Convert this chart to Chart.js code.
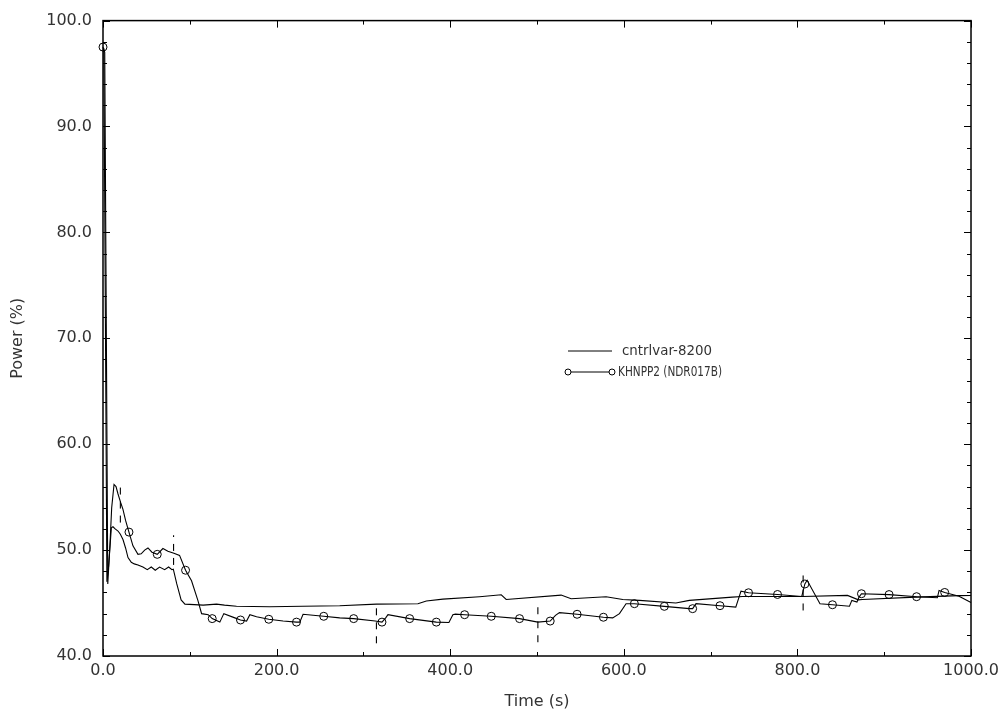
<!DOCTYPE html>
<html>
<head>
<meta charset="utf-8">
<title>Power</title>
<script src="https://cdn.jsdelivr.net/npm/chart.js@4.4.0/dist/chart.umd.min.js"></script>
<style>
  html, body { margin: 0; padding: 0; background: #fff; }
  #wrap { width: 1004px; height: 718px; }
</style>
</head>
<body>
<div id="wrap"><canvas id="powerChart" width="1004" height="718"></canvas></div>
<script>
// cntrlvar-8200 : calculated power
const calcTime = [0, 1, 4.5, 6.5, 9.6, 11.5, 14, 17.3, 20, 23, 26, 28.8, 32.6, 36, 40.3, 46, 51, 55.6, 60.2,
  65.2, 71, 75.6, 79.4, 81, 85, 90, 94.4, 105, 115.4, 130.8, 140, 153.8, 192, 230, 272.7, 315, 362.8,
  372.5, 391.6, 433.8, 458.8, 464.5, 527.8, 539.3, 579.6, 598.8, 618, 660, 675.5, 725, 736.8, 805.9,
  857.7, 870.3, 874.9, 936.2, 986, 1000];
const calcPower = [97.4, 97.0, 47.0, 48.5, 52.1, 52.2, 52.0, 51.8, 51.5, 51.0, 50.2, 49.3, 48.85, 48.7, 48.6,
  48.4, 48.15, 48.4, 48.1, 48.4, 48.15, 48.4, 48.15, 48.2, 46.8, 45.3, 44.9, 44.85, 44.8, 44.9, 44.8,
  44.7, 44.65, 44.7, 44.75, 44.9, 44.94, 45.2, 45.37, 45.6, 45.78, 45.34, 45.75, 45.4, 45.6, 45.34,
  45.25, 45.0, 45.25, 45.56, 45.62, 45.62, 45.72, 45.3, 45.34, 45.56, 45.7, 45.72];

// KHNPP2 (NDR017B) : plant record
const plantTime = [0, 2, 5.5, 8, 10, 12.7, 15, 17.3, 20.3, 23, 26, 29.9, 34.5, 40.3, 44, 48, 51.8, 56.4, 62.5,
  69, 74.8, 81.7, 88.2, 95.1, 102, 109.3, 113.6, 121.2, 125.8, 134.6, 139.2, 151.9, 158.4, 165.4, 169.2,
  176.9, 191, 207.5, 222.9, 226.7, 230.5, 242, 254.3, 272.7, 288.8, 313.6, 321.4, 325.7, 328.3, 353.3,
  384, 398.5, 403.1, 406, 416.6, 447.3, 479.9, 500.9, 515.2, 521.3, 525.9, 546.2, 576.5, 587.2, 595,
  602.6, 612.2, 646.7, 675.5, 679.3, 683.2, 710.8, 729, 735, 743.7, 777.1, 805, 808.6, 811.2, 826,
  840.4, 860, 862.7, 868.6, 871, 873.8, 905.6, 937.3, 961.2, 963.2, 969.7, 986.2, 1000];
const plantPower = [97.5, 97.0, 46.8, 50.5, 54.0, 56.2, 56.0, 55.3, 54.5, 53.85, 52.8, 51.7, 50.4, 49.6, 49.65,
  50.0, 50.2, 49.8, 49.6, 50.15, 49.9, 49.7, 49.5, 48.1, 47.1, 45.25, 44.0, 43.9, 43.53, 43.2, 44.0,
  43.6, 43.4, 43.3, 43.9, 43.7, 43.47, 43.3, 43.2, 43.2, 43.94, 43.85, 43.75, 43.6, 43.53, 43.3, 43.2,
  43.6, 43.9, 43.53, 43.2, 43.16, 43.9, 43.95, 43.9, 43.75, 43.53, 43.2, 43.3, 43.84, 44.1, 43.94,
  43.66, 43.6, 44.0, 44.94, 44.94, 44.69, 44.47, 44.47, 44.94, 44.75, 44.62, 46.12, 45.97, 45.81,
  45.62, 46.8, 47.15, 44.94, 44.84, 44.7, 45.25, 45.1, 45.56, 45.88, 45.8, 45.6, 45.5, 46.19, 46.0,
  45.65, 45.05];
// plant points that carry a circle symbol
const plantMarkTime = [0, 29.9, 62.5, 95.1, 125.8, 158.4, 191, 222.9, 254.3, 288.8, 321.4, 353.3, 384, 416.6,
  447.3, 479.9, 515.2, 546.2, 576.5, 612.2, 646.7, 679.3, 710.8, 743.7, 777.1, 808.6, 840.4, 873.8,
  905.6, 937.3, 969.7];

// dashed vertical bars
const barTime = [20, 81.3, 315, 501, 806.6];
const barLow = [52.6, 48.6, 41.2, 41.3, 44.3];
const barHigh = [56.4, 51.4, 45.0, 44.9, 47.9];

const xTicks = [0, 200, 400, 600, 800, 1000];
const xMinorTicks = [100, 300, 500, 700, 900];
const yTicks = [40, 50, 60, 70, 80, 90, 100];
const yMinorTicks = [42, 44, 46, 48, 52, 54, 56, 58, 62, 64, 66, 68, 72, 74, 76, 78, 82, 84, 86, 88, 92, 94, 96, 98];

const ink = '#000';
const textInk = '#333';
Chart.defaults.font.family = "'DejaVu Sans', sans-serif";
Chart.defaults.color = textInk;

const toPoints = (xs, ys) => xs.map((t, i) => ({ x: t, y: ys[i] }));
const marked = plantTime.map(t => plantMarkTime.includes(t));

const bars = barTime.map((t, i) => ({
    label: 'bar' + i,
    data: [{ x: t, y: barLow[i] }, { x: t, y: barHigh[i] }],
    borderColor: ink,
    borderWidth: 1.1,
    borderDash: [7, 7],
    pointRadius: 0,
    fill: false
}));

// box around the plot with inward ticks on every side
const frameTicks = {
    id: 'frameTicks',
    afterDatasetsDraw(chart) {
        const { ctx, chartArea: a, scales: { x, y } } = chart;
        ctx.save();
        ctx.strokeStyle = ink;
        ctx.lineWidth = 1;
        ctx.beginPath();
        const xt = (vals, len) => vals.forEach(v => {
            const px = Math.round(x.getPixelForValue(v)) + 0.5;
            ctx.moveTo(px, a.bottom); ctx.lineTo(px, a.bottom - len);
            ctx.moveTo(px, a.top); ctx.lineTo(px, a.top + len);
        });
        const yt = (vals, len) => vals.forEach(v => {
            const py = Math.round(y.getPixelForValue(v)) + 0.5;
            ctx.moveTo(a.left, py); ctx.lineTo(a.left + len, py);
            ctx.moveTo(a.right, py); ctx.lineTo(a.right - len, py);
        });
        xt(xTicks, 7); xt(xMinorTicks, 4);
        yt(yTicks, 7); yt(yMinorTicks, 4);
        ctx.stroke();
        ctx.lineWidth = 1.5;
        ctx.strokeRect(a.left, a.top, a.right - a.left, a.bottom - a.top);
        ctx.restore();
    }
};

// legend in the middle right of the plot
const legendBox = {
    id: 'legendBox',
    afterDraw(chart) {
        const { ctx } = chart;
        const sets = chart.data.datasets;
        const lx = 568, ly = 351, gap = 21, len = 44;
        ctx.save();
        ctx.strokeStyle = ink;
        ctx.lineWidth = 1;
        ctx.fillStyle = textInk;
        ctx.font = "14px 'DejaVu Sans'";
        ctx.textBaseline = 'middle';

        ctx.beginPath();
        ctx.moveTo(lx, ly); ctx.lineTo(lx + len, ly);
        ctx.stroke();
        ctx.fillText(sets[0].label, lx + len + 10, ly, 90);

        const y2 = ly + gap;
        ctx.beginPath();
        ctx.moveTo(lx + 3, y2); ctx.lineTo(lx + len - 3, y2);
        ctx.stroke();
        [lx, lx + len].forEach(cx => {
            ctx.beginPath();
            ctx.arc(cx, y2, 3, 0, Math.PI * 2);
            ctx.stroke();
        });
        ctx.fillText(sets[1].label, lx + len + 6, y2, 104);
        ctx.restore();
    }
};

new Chart(document.getElementById('powerChart'), {
    type: 'line',
    data: {
        datasets: [
            {
                label: 'cntrlvar-8200',
                data: toPoints(calcTime, calcPower),
                borderColor: ink,
                borderWidth: 1.1,
                pointRadius: 0,
                fill: false
            },
            {
                label: 'KHNPP2 (NDR017B)',
                data: toPoints(plantTime, plantPower),
                borderColor: ink,
                borderWidth: 1.1,
                pointRadius: ctx => marked[ctx.dataIndex] ? 4 : 0,
                pointBorderColor: ink,
                pointBorderWidth: 1,
                pointBackgroundColor: 'rgba(0,0,0,0)',
                clip: false,
                fill: false
            },
            ...bars
        ]
    },
    options: {
        responsive: false,
        animation: false,
        events: [],
        devicePixelRatio: 1,
        layout: { padding: { top: 16, right: 32, left: 0, bottom: 0 } },
        plugins: {
            legend: { display: false },
            tooltip: { enabled: false }
        },
        scales: {
            x: {
                type: 'linear',
                min: 0,
                max: 1000,
                afterBuildTicks: s => { s.ticks = xTicks.map(v => ({ value: v })); },
                afterFit: s => { s.height = 62; },
                grid: { display: false, drawTicks: false },
                border: { display: false },
                ticks: {
                    autoSkip: false,
                    maxRotation: 0,
                    padding: 5,
                    font: { size: 16 },
                    callback: v => v.toFixed(1)
                },
                title: {
                    display: true,
                    text: 'Time (s)',
                    font: { size: 16 },
                    padding: { top: 0, bottom: 7 }
                }
            },
            y: {
                type: 'linear',
                min: 40,
                max: 100,
                afterBuildTicks: s => { s.ticks = yTicks.map(v => ({ value: v })); },
                afterFit: s => { s.width = 103; },
                grid: { display: false, drawTicks: false },
                border: { display: false },
                ticks: {
                    padding: 11,
                    font: { size: 16 },
                    callback: v => v.toFixed(1)
                },
                title: {
                    display: true,
                    text: 'Power (%)',
                    font: { size: 16 },
                    padding: { top: 8, bottom: 0 }
                }
            }
        }
    },
    plugins: [frameTicks, legendBox]
});
</script>
</body>
</html>
